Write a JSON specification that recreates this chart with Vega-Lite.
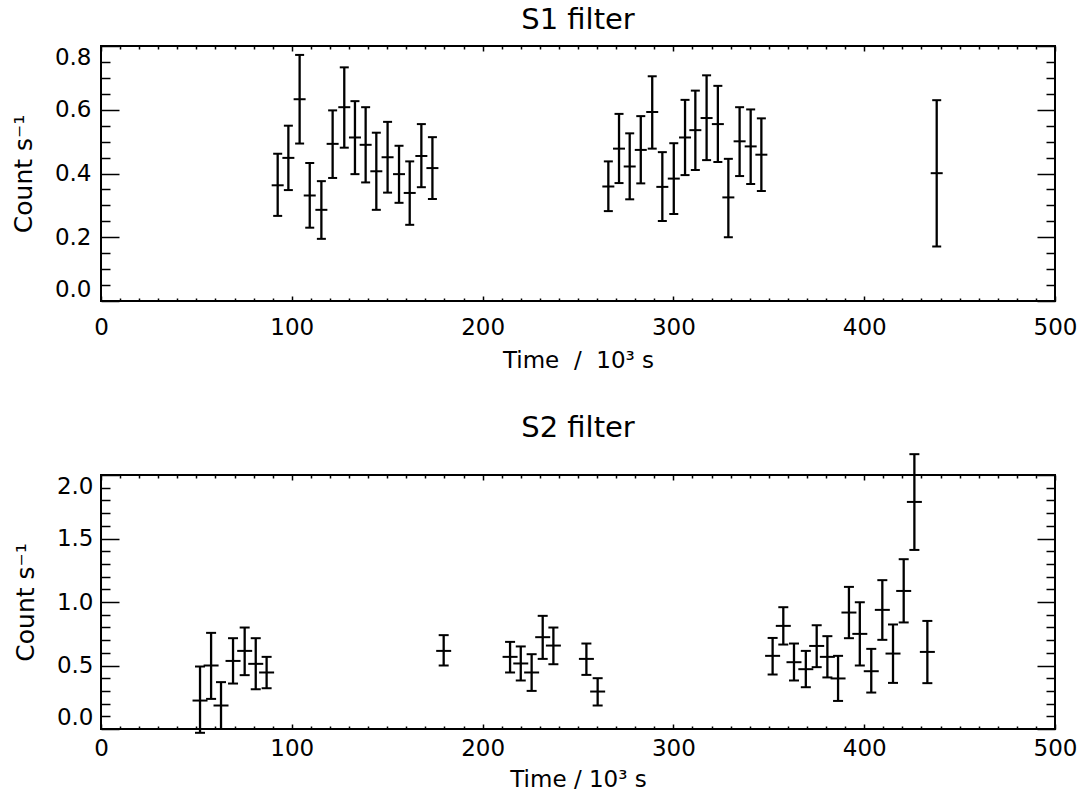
{
  "$schema": "https://vega.github.io/schema/vega-lite/v6.json",
  "background": "white",
  "padding": {"left": 10, "top": 5, "right": 5, "bottom": 0},
  "spacing": 40,
  "datasets": {
    "s1": [
      {"t": 92.6, "rate": 0.363, "lo": 0.267, "hi": 0.462},
      {"t": 98.2, "rate": 0.449, "lo": 0.348, "hi": 0.550},
      {"t": 104.1, "rate": 0.633, "lo": 0.494, "hi": 0.772},
      {"t": 109.4, "rate": 0.331, "lo": 0.230, "hi": 0.433},
      {"t": 115.5, "rate": 0.286, "lo": 0.195, "hi": 0.376},
      {"t": 121.4, "rate": 0.493, "lo": 0.386, "hi": 0.598},
      {"t": 127.5, "rate": 0.608, "lo": 0.481, "hi": 0.733},
      {"t": 133.1, "rate": 0.513, "lo": 0.398, "hi": 0.627},
      {"t": 138.7, "rate": 0.490, "lo": 0.372, "hi": 0.608},
      {"t": 144.3, "rate": 0.407, "lo": 0.286, "hi": 0.528},
      {"t": 150.2, "rate": 0.451, "lo": 0.340, "hi": 0.562},
      {"t": 156.2, "rate": 0.398, "lo": 0.308, "hi": 0.487},
      {"t": 161.8, "rate": 0.339, "lo": 0.239, "hi": 0.438},
      {"t": 167.9, "rate": 0.455, "lo": 0.357, "hi": 0.555},
      {"t": 173.7, "rate": 0.417, "lo": 0.320, "hi": 0.514},
      {"t": 265.9, "rate": 0.359, "lo": 0.282, "hi": 0.438},
      {"t": 271.5, "rate": 0.478, "lo": 0.370, "hi": 0.587},
      {"t": 277.1, "rate": 0.422, "lo": 0.319, "hi": 0.526},
      {"t": 282.9, "rate": 0.474, "lo": 0.369, "hi": 0.580},
      {"t": 288.9, "rate": 0.593, "lo": 0.478, "hi": 0.705},
      {"t": 294.2, "rate": 0.358, "lo": 0.251, "hi": 0.467},
      {"t": 300.2, "rate": 0.384, "lo": 0.273, "hi": 0.495},
      {"t": 306.1, "rate": 0.513, "lo": 0.395, "hi": 0.631},
      {"t": 311.5, "rate": 0.536, "lo": 0.411, "hi": 0.660},
      {"t": 317.4, "rate": 0.574, "lo": 0.442, "hi": 0.708},
      {"t": 323.3, "rate": 0.555, "lo": 0.436, "hi": 0.675},
      {"t": 328.8, "rate": 0.325, "lo": 0.200, "hi": 0.446},
      {"t": 334.7, "rate": 0.501, "lo": 0.392, "hi": 0.608},
      {"t": 340.5, "rate": 0.485, "lo": 0.367, "hi": 0.601},
      {"t": 346.1, "rate": 0.459, "lo": 0.345, "hi": 0.573},
      {"t": 438.0, "rate": 0.401, "lo": 0.171, "hi": 0.630}
    ],
    "s2": [
      {"t": 51.9, "rate": 0.224, "lo": -0.03, "hi": 0.492},
      {"t": 57.7, "rate": 0.500, "lo": 0.237, "hi": 0.757},
      {"t": 62.9, "rate": 0.185, "lo": 0.0, "hi": 0.369},
      {"t": 69.2, "rate": 0.536, "lo": 0.358, "hi": 0.715},
      {"t": 75.3, "rate": 0.615, "lo": 0.424, "hi": 0.799},
      {"t": 81.1, "rate": 0.513, "lo": 0.313, "hi": 0.715},
      {"t": 86.8, "rate": 0.445, "lo": 0.321, "hi": 0.568},
      {"t": 179.6, "rate": 0.615, "lo": 0.500, "hi": 0.739},
      {"t": 214.4, "rate": 0.568, "lo": 0.445, "hi": 0.686},
      {"t": 220.0, "rate": 0.516, "lo": 0.382, "hi": 0.650},
      {"t": 225.7, "rate": 0.445, "lo": 0.300, "hi": 0.589},
      {"t": 231.5, "rate": 0.723, "lo": 0.552, "hi": 0.891},
      {"t": 237.1, "rate": 0.657, "lo": 0.510, "hi": 0.799},
      {"t": 254.4, "rate": 0.552, "lo": 0.426, "hi": 0.673},
      {"t": 260.3, "rate": 0.295, "lo": 0.185, "hi": 0.400},
      {"t": 352.0, "rate": 0.576, "lo": 0.429, "hi": 0.717},
      {"t": 357.6, "rate": 0.812, "lo": 0.665, "hi": 0.959},
      {"t": 363.2, "rate": 0.526, "lo": 0.382, "hi": 0.673},
      {"t": 369.4, "rate": 0.471, "lo": 0.329, "hi": 0.615},
      {"t": 375.1, "rate": 0.654, "lo": 0.487, "hi": 0.817},
      {"t": 380.7, "rate": 0.568, "lo": 0.406, "hi": 0.731},
      {"t": 386.3, "rate": 0.398, "lo": 0.221, "hi": 0.576},
      {"t": 392.0, "rate": 0.917, "lo": 0.715, "hi": 1.119},
      {"t": 397.7, "rate": 0.749, "lo": 0.500, "hi": 0.998},
      {"t": 403.7, "rate": 0.455, "lo": 0.287, "hi": 0.631},
      {"t": 409.5, "rate": 0.938, "lo": 0.702, "hi": 1.172},
      {"t": 415.1, "rate": 0.594, "lo": 0.363, "hi": 0.823},
      {"t": 420.7, "rate": 1.087, "lo": 0.839, "hi": 1.337},
      {"t": 426.3, "rate": 1.788, "lo": 1.410, "hi": 2.164},
      {"t": 433.1, "rate": 0.607, "lo": 0.361, "hi": 0.851}
    ]
  },
  "vconcat": [
    {
      "width": 954,
      "height": 255,
      "title": {"text": "S1 filter", "offset": 10},
      "data": {"name": "s1"},
      "resolve": {"axis": {"x": "independent", "y": "independent"}},
      "layer": [
        {
          "mark": {"type": "rule", "color": "black", "strokeWidth": 2.3},
          "encoding": {
            "x": {"field": "t", "type": "quantitative", "scale": {"domain": [0, 500], "nice": false, "zero": false},
              "axis": {"orient": "bottom", "values": [0, 100, 200, 300, 400, 500], "tickSize": -5, "labelPadding": 20, "labelFlush": false, "format": "d", "title": "Time\u00a0\u00a0/\u00a0\u00a010³ s", "titlePadding": 10}},
            "y": {"field": "lo", "type": "quantitative", "scale": {"domain": [0, 0.8], "nice": false, "zero": false},
              "axis": {"orient": "left", "values": [0, 0.2, 0.4, 0.6, 0.8], "tickSize": -18, "labelPadding": 28, "labelFlush": true, "format": ".1f", "title": "Count s⁻¹", "titlePadding": 18, "titleFontSize": 25}},
            "y2": {"field": "hi"}
          }
        },
        {
          "mark": {"type": "tick", "orient": "horizontal", "size": 12, "thickness": 2, "color": "black", "opacity": 1},
          "encoding": {
            "x": {"field": "t", "type": "quantitative",
              "axis": {"orient": "bottom", "values": [10,20,30,40,50,60,70,80,90,110,120,130,140,150,160,170,180,190,210,220,230,240,250,260,270,280,290,310,320,330,340,350,360,370,380,390,410,420,430,440,450,460,470,480,490], "tickSize": -3, "labels": false, "title": null}},
            "y": {"field": "rate", "type": "quantitative",
              "axis": {"orient": "left", "values": [0.05,0.1,0.15,0.25,0.3,0.35,0.45,0.5,0.55,0.65,0.7,0.75], "tickSize": -9, "labels": false, "title": null}}
          }
        },
        {
          "mark": {"type": "tick", "orient": "horizontal", "size": 9, "thickness": 2, "color": "black", "opacity": 1},
          "encoding": {
            "x": {"field": "t", "type": "quantitative",
              "axis": {"orient": "top", "values": [0, 100, 200, 300, 400, 500], "tickSize": -5, "labels": false, "title": null}},
            "y": {"field": "hi", "type": "quantitative",
              "axis": {"orient": "right", "values": [0, 0.2, 0.4, 0.6, 0.8], "tickSize": -18, "labels": false, "title": null}}
          }
        },
        {
          "mark": {"type": "tick", "orient": "horizontal", "size": 9, "thickness": 2, "color": "black", "opacity": 1},
          "encoding": {
            "x": {"field": "t", "type": "quantitative",
              "axis": {"orient": "top", "values": [10,20,30,40,50,60,70,80,90,110,120,130,140,150,160,170,180,190,210,220,230,240,250,260,270,280,290,310,320,330,340,350,360,370,380,390,410,420,430,440,450,460,470,480,490], "tickSize": -3, "labels": false, "title": null}},
            "y": {"field": "lo", "type": "quantitative",
              "axis": {"orient": "right", "values": [0.05,0.1,0.15,0.25,0.3,0.35,0.45,0.5,0.55,0.65,0.7,0.75], "tickSize": -9, "labels": false, "title": null}}
          }
        }
      ]
    },
    {
      "width": 954,
      "height": 254,
      "title": {"text": "S2 filter", "offset": 10},
      "data": {"name": "s2"},
      "resolve": {"axis": {"x": "independent", "y": "independent"}},
      "layer": [
        {
          "mark": {"type": "rule", "color": "black", "strokeWidth": 2.3},
          "encoding": {
            "x": {"field": "t", "type": "quantitative", "scale": {"domain": [0, 500], "nice": false, "zero": false},
              "axis": {"orient": "bottom", "values": [0, 100, 200, 300, 400, 500], "tickSize": -5, "labelPadding": 13, "labelFlush": false, "format": "d", "title": "Time / 10³ s", "titlePadding": 8}},
            "y": {"field": "lo", "type": "quantitative", "scale": {"domain": [0, 2], "nice": false, "zero": false},
              "axis": {"orient": "left", "values": [0, 0.5, 1, 1.5, 2], "tickSize": -18, "labelPadding": 26, "labelFlush": true, "format": ".1f", "title": "Count s⁻¹", "titlePadding": 18, "titleFontSize": 25}},
            "y2": {"field": "hi"}
          }
        },
        {
          "mark": {"type": "tick", "orient": "horizontal", "size": 15, "thickness": 2, "color": "black", "opacity": 1},
          "encoding": {
            "x": {"field": "t", "type": "quantitative",
              "axis": {"orient": "bottom", "values": [10,20,30,40,50,60,70,80,90,110,120,130,140,150,160,170,180,190,210,220,230,240,250,260,270,280,290,310,320,330,340,350,360,370,380,390,410,420,430,440,450,460,470,480,490], "tickSize": -3, "labels": false, "title": null}},
            "y": {"field": "rate", "type": "quantitative",
              "axis": {"orient": "left", "values": [0.1,0.2,0.3,0.4,0.6,0.7,0.8,0.9,1.1,1.2,1.3,1.4,1.6,1.7,1.8,1.9], "tickSize": -9, "labels": false, "title": null}}
          }
        },
        {
          "mark": {"type": "tick", "orient": "horizontal", "size": 10, "thickness": 2, "color": "black", "opacity": 1},
          "encoding": {
            "x": {"field": "t", "type": "quantitative",
              "axis": {"orient": "top", "values": [0, 100, 200, 300, 400, 500], "tickSize": -5, "labels": false, "title": null}},
            "y": {"field": "hi", "type": "quantitative",
              "axis": {"orient": "right", "values": [0, 0.5, 1, 1.5, 2], "tickSize": -18, "labels": false, "title": null}}
          }
        },
        {
          "mark": {"type": "tick", "orient": "horizontal", "size": 10, "thickness": 2, "color": "black", "opacity": 1},
          "encoding": {
            "x": {"field": "t", "type": "quantitative",
              "axis": {"orient": "top", "values": [10,20,30,40,50,60,70,80,90,110,120,130,140,150,160,170,180,190,210,220,230,240,250,260,270,280,290,310,320,330,340,350,360,370,380,390,410,420,430,440,450,460,470,480,490], "tickSize": -3, "labels": false, "title": null}},
            "y": {"field": "lo", "type": "quantitative",
              "axis": {"orient": "right", "values": [0.1,0.2,0.3,0.4,0.6,0.7,0.8,0.9,1.1,1.2,1.3,1.4,1.6,1.7,1.8,1.9], "tickSize": -9, "labels": false, "title": null}}
          }
        }
      ]
    }
  ],
  "config": {
    "font": "DejaVu Sans",
    "view": {"stroke": "black", "strokeWidth": 2},
    "axis": {
      "grid": false,
      "domain": false,
      "tickColor": "black",
      "tickWidth": 1.5,
      "labelColor": "black",
      "titleColor": "black",
      "labelFont": "DejaVu Sans",
      "titleFont": "DejaVu Sans",
      "labelFontSize": 23,
      "titleFontSize": 23,
      "titleFontWeight": "normal",
      "labelOverlap": false
    },
    "title": {"font": "DejaVu Sans", "fontSize": 29, "fontWeight": "normal", "color": "black", "frame": "group", "anchor": "middle"}
  }
}
